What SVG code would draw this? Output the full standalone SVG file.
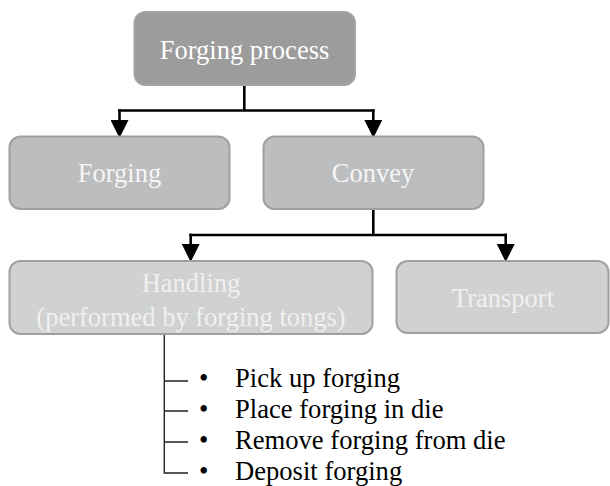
<svg xmlns="http://www.w3.org/2000/svg" width="610" height="486" viewBox="0 0 610 486">
<defs>
<style>
.t{font-family:"Liberation Serif","Times New Roman",serif;font-size:26.5px;text-anchor:middle}
.b{font-family:"Liberation Serif","Times New Roman",serif;font-size:26.6px;fill:#000}
.l0{fill:#9c9c9c;stroke:#a4a4a4;stroke-width:2}
.l1{fill:#bcbdbf;stroke:#a0a0a0;stroke-width:2}
.l2{fill:#d0d1d1;stroke:#a0a0a0;stroke-width:2}
.c{fill:none;stroke:#000;stroke-width:2.6}
.c2{fill:none;stroke:#222;stroke-width:1.4}
</style>
<marker id="ah" markerUnits="userSpaceOnUse" markerWidth="18" markerHeight="18" refX="0" refY="8.5" orient="auto" viewBox="0 0 17 17">
<path d="M0,0 L17,8.5 L0,17 z" fill="#000"/>
</marker>
</defs>
<g id="connectors">
<path class="c" d="M244.3,85 V110.5"/>
<path class="c" d="M118.2,110.5 H374.6"/>
<path class="c" d="M119.5,109.2 V120" marker-end="url(#ah)"/>
<path class="c" d="M373.3,109.2 V120" marker-end="url(#ah)"/>
<path class="c" d="M373.3,209 V235"/>
<path class="c" d="M189.4,235 H507"/>
<path class="c" d="M190.7,233.7 V244" marker-end="url(#ah)"/>
<path class="c" d="M505.7,233.7 V244" marker-end="url(#ah)"/>
<path class="c2" d="M164.3,334 V473 H188 M164.3,381 H188 M164.3,411 H188 M164.3,442 H188"/>
</g>
<g id="forging-process">
<rect class="l0" x="134.5" y="12" width="220.5" height="73" rx="11"/>
<text class="t" x="244.5" y="58.5" fill="#ffffff">Forging process</text>
</g>
<g id="forging">
<rect class="l1" x="9.5" y="136.5" width="220" height="72.5" rx="11"/>
<text class="t" x="119.5" y="182" fill="#f6f6f6">Forging</text>
</g>
<g id="convey">
<rect class="l1" x="263.5" y="136.5" width="220" height="72.5" rx="11"/>
<text class="t" x="373" y="182" fill="#f6f6f6">Convey</text>
</g>
<g id="handling">
<rect class="l2" x="9.5" y="261" width="363" height="73" rx="11"/>
<text class="t" x="191" y="291.7" fill="#f0f0f0">Handling</text>
<text class="t" x="191" y="325.7" fill="#f0f0f0">(performed by forging tongs)</text>
</g>
<g id="transport">
<rect class="l2" x="396.5" y="261" width="212" height="72" rx="11"/>
<text class="t" x="503" y="306.7" fill="#f0f0f0">Transport</text>
</g>
<g id="handling-steps">
<text class="b" x="199" y="387">•</text>
<text class="b" x="235" y="387">Pick up forging</text>
<text class="b" x="199" y="418">•</text>
<text class="b" x="235" y="418">Place forging in die</text>
<text class="b" x="199" y="449">•</text>
<text class="b" x="235" y="449">Remove forging from die</text>
<text class="b" x="199" y="480">•</text>
<text class="b" x="235" y="480">Deposit forging</text>
</g>
</svg>
